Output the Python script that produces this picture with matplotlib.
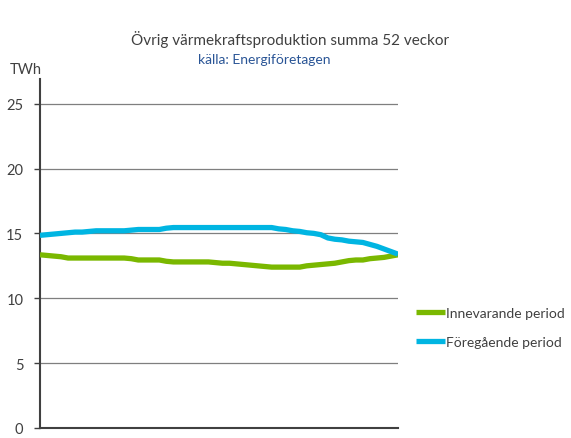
import matplotlib
matplotlib.use("Agg")
import matplotlib.pyplot as plt
import numpy as np

plt.rcParams['font.family'] = ['Lato', 'DejaVu Sans']

weeks = list(range(1, 53))
innevarande = [13.35, 13.3, 13.25, 13.2, 13.1, 13.1, 13.1, 13.1, 13.1, 13.1, 13.1, 13.1, 13.1,
               13.05, 12.95, 12.95, 12.95, 12.95, 12.85, 12.8, 12.8, 12.8, 12.8, 12.8, 12.8,
               12.75, 12.7, 12.7, 12.65, 12.6, 12.55, 12.5, 12.45, 12.4, 12.4, 12.4, 12.4, 12.4,
               12.5, 12.55, 12.6, 12.65, 12.7, 12.8, 12.9, 12.95, 12.95, 13.05, 13.1, 13.15,
               13.25, 13.35]
foregaende = [14.85, 14.9, 14.95, 15.0, 15.05, 15.1, 15.1, 15.15, 15.2, 15.2, 15.2, 15.2, 15.2,
              15.25, 15.3, 15.3, 15.3, 15.3, 15.4, 15.45, 15.45, 15.45, 15.45, 15.45, 15.45,
              15.45, 15.45, 15.45, 15.45, 15.45, 15.45, 15.45, 15.45, 15.45, 15.35, 15.3, 15.2,
              15.15, 15.05, 15.0, 14.9, 14.65, 14.55, 14.5, 14.4, 14.35, 14.3, 14.15, 14.0,
              13.8, 13.6, 13.4]
yticks = [0, 5, 10, 15, 20, 25]

fig = plt.figure(figsize=(5.71, 4.39), dpi=100)
ax = fig.add_axes([40/571, 1-429/439, 358/571, 349/439])
ax.set_xlim(weeks[0], weeks[-1])
ax.set_ylim(0, 26.9)

for t in yticks[1:]:
    ax.axhline(t, color='#7f7f7f', lw=0.9, zorder=1)

l1, = ax.plot(weeks, innevarande, color='#7ab800', lw=3.8, solid_capstyle='butt', zorder=3,
              label='Innevarande period')
l2, = ax.plot(weeks, foregaende, color='#00b5e2', lw=3.8, solid_capstyle='butt', zorder=3,
              label='Föregående period')

ax.set_yticks(yticks)
ax.set_yticklabels([str(t) for t in yticks], fontsize=10.5, color='#404040')
ax.set_xticks([])
ax.tick_params(axis='y', direction='out', length=4, width=1, color='#404040', pad=8)
for s in ['top', 'right']:
    ax.spines[s].set_visible(False)
for s in ['left', 'bottom']:
    ax.spines[s].set_color('#404040')
    ax.spines[s].set_linewidth(1.5)

fig.text(290/571, 1-40/439, 'Övrig värmekraftsproduktion summa 52 veckor', ha='center', va='center',
         fontsize=11, color='#404040')
fig.text(264/571, 1-60/439, 'källa: Energiföretagen', ha='center', va='center',
         fontsize=10, color='#2a5596')
fig.text(10/571, 1-70/439, 'TWh', ha='left', va='center', fontsize=10.5, color='#404040')

leg = fig.legend(handles=[l1, l2], loc='upper left', bbox_to_anchor=(403/571, 1-295/439),
                 frameon=False, fontsize=10, handlelength=2.1, handletextpad=0.1,
                 labelspacing=1.25, labelcolor='#404040')

fig.savefig('out.png', dpi=100)
